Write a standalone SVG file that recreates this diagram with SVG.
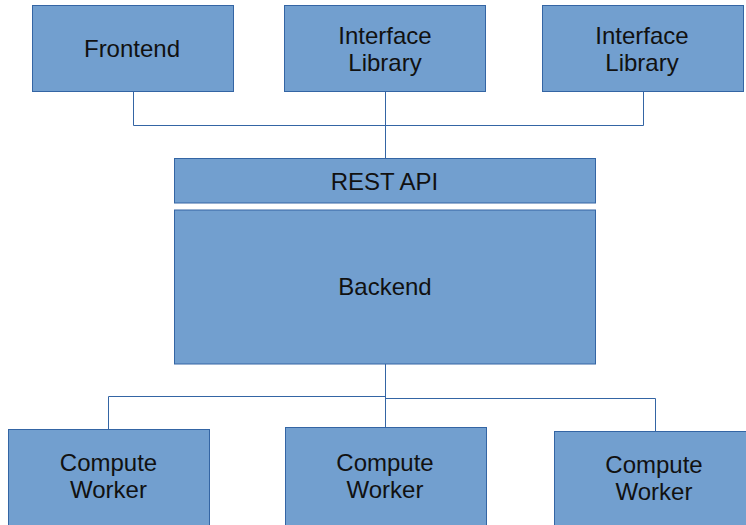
<svg xmlns="http://www.w3.org/2000/svg" width="746" height="525" viewBox="0 0 746 525">
  <style>
    .box { fill: #729fcf; stroke: #3465a4; stroke-width: 1; }
    .lbl { font-family: "Liberation Sans", Arial, sans-serif; font-size: 24px; fill: #111111; text-anchor: middle; }
    .wire { fill: none; stroke: #3465a4; stroke-width: 1; }
  </style>
  <rect width="746" height="525" fill="#ffffff"/>

  <!-- connectors -->
  <g id="connectors">
    <polyline class="wire" points="133.5,92 133.5,125.5 643.5,125.5 643.5,92"/>
    <line class="wire" x1="385.5" y1="92" x2="385.5" y2="158.5"/>
    <line class="wire" x1="385.5" y1="364" x2="385.5" y2="427.5"/>
    <polyline class="wire" points="108.5,429 108.5,396.5 385.5,396.5"/>
    <polyline class="wire" points="385.5,398.5 655.5,398.5 655.5,431"/>
  </g>

  <g id="frontend">
    <rect class="box" x="32.5" y="5.5" width="201" height="86"/>
    <text class="lbl" x="132" y="56.5">Frontend</text>
  </g>

  <g id="interface-library-1">
    <rect class="box" x="284.5" y="5.5" width="201" height="86"/>
    <text class="lbl" x="385" y="43.5">Interface</text>
    <text class="lbl" x="385" y="70.5">Library</text>
  </g>

  <g id="interface-library-2">
    <rect class="box" x="542.5" y="5.5" width="201" height="86"/>
    <text class="lbl" x="642" y="43.5">Interface</text>
    <text class="lbl" x="642" y="70.5">Library</text>
  </g>

  <g id="rest-api">
    <rect class="box" x="174.5" y="158.5" width="421" height="44.5"/>
    <text class="lbl" x="384.5" y="189.5">REST API</text>
  </g>

  <g id="backend">
    <rect class="box" x="174.5" y="210" width="421" height="154"/>
    <text class="lbl" x="385" y="295">Backend</text>
  </g>

  <g id="compute-worker-1">
    <rect class="box" x="8.5" y="429.5" width="201" height="100"/>
    <text class="lbl" x="108.5" y="470.5">Compute</text>
    <text class="lbl" x="108.5" y="498">Worker</text>
  </g>

  <g id="compute-worker-2">
    <rect class="box" x="285.5" y="427.5" width="201" height="100"/>
    <text class="lbl" x="385" y="470.5">Compute</text>
    <text class="lbl" x="385" y="497.5">Worker</text>
  </g>

  <g id="compute-worker-3">
    <rect class="box" x="554.5" y="431.5" width="201" height="100"/>
    <text class="lbl" x="654" y="472.5">Compute</text>
    <text class="lbl" x="654" y="500">Worker</text>
  </g>
</svg>
